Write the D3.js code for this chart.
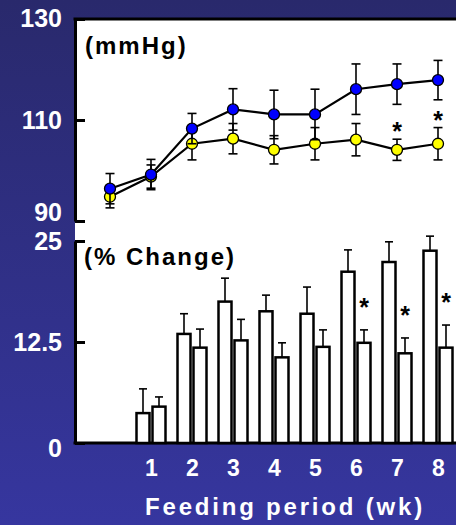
<!DOCTYPE html>
<html><head><meta charset="utf-8">
<script src="https://cdn.jsdelivr.net/npm/d3@7"></script>
<style>
html,body{margin:0;padding:0;background:#2f2f86;}
svg{display:block;}
text{font-family:Arial,"Liberation Sans",sans-serif;font-weight:bold;}
</style></head>
<body>
<svg id="chart" width="456" height="525"></svg>
<script>
// ---- data ----
const weeks = [0, 1, 2, 3, 4, 5, 6, 7, 8];
const xTickLabels = ["1", "2", "3", "4", "5", "6", "7", "8"];
// blood pressure (mmHg)
const bpBlue = [96.4, 99.2, 108.3, 112.1, 111.1, 111.1, 116.1, 117.1, 117.9];
const bpBlueErr = [3.0, 3.0, 3.0, 4.1, 4.8, 5.0, 5.0, 4.0, 3.9];
const bpYellow = [94.8, 98.8, 105.3, 106.3, 104.1, 105.3, 106.1, 104.1, 105.3];
const bpYellowErr = [2.2, 2.3, 3.2, 3.0, 2.8, 3.2, 3.2, 2.1, 3.2];
const bpStarWeeks = [7, 8];
// percent change
const pctA = [0, 3.7, 13.5, 17.5, 16.3, 16.0, 21.2, 22.4, 23.8];
const pctAErr = [0, 3.0, 2.5, 2.9, 2.0, 3.3, 2.7, 2.5, 1.8];
const pctB = [0, 4.5, 11.8, 12.7, 10.6, 11.9, 12.4, 11.1, 11.8];
const pctBErr = [0, 1.2, 2.3, 2.6, 1.8, 2.1, 1.6, 1.9, 2.8];
const pctStarWeeks = [6, 7, 8];
const topTicks = [90, 110, 130];
const bottomTicks = [0, 12.5, 25];
const topLabel = "(mmHg)";
const bottomLabel = "(% Change)";
const xTitle = "Feeding period (wk)";

// ---- layout ----
const svg = d3.select("#chart");
const W = 456, H = 525;
const plotLeft = 75;
const defs = svg.append("defs");
const grad = defs.append("linearGradient").attr("id", "bg").attr("x1", 0).attr("y1", 0).attr("x2", 0).attr("y2", 1);
grad.append("stop").attr("offset", "0%").attr("stop-color", "#29296c");
grad.append("stop").attr("offset", "100%").attr("stop-color", "#36369f");
svg.append("rect").attr("width", W).attr("height", H).attr("fill", "url(#bg)");

const x = d3.scaleLinear().domain([0, 8]).range([110, 438]);
const yTop = d3.scaleLinear().domain([90, 130]).range([221, 19]);
const yBot = d3.scaleLinear().domain([0, 25]).range([443, 241]);

// white plot area
svg.append("rect").attr("x", plotLeft).attr("y", yTop(130)).attr("width", W - plotLeft)
  .attr("height", yBot(0) - yTop(130)).attr("fill", "#fff");
// top border
svg.append("line").attr("x1", plotLeft - 1.5).attr("x2", W).attr("y1", yTop(130)).attr("y2", yTop(130))
  .attr("stroke", "#000").attr("stroke-width", 3);
// bottom axis line
svg.append("line").attr("x1", plotLeft - 1.5).attr("x2", W).attr("y1", yBot(0)).attr("y2", yBot(0))
  .attr("stroke", "#000").attr("stroke-width", 3);

function styleAxis(g) {
  g.select(".domain").attr("stroke", "#000").attr("stroke-width", 3);
  g.selectAll(".tick line").attr("stroke", "#000").attr("stroke-width", 3);
  g.selectAll(".tick text").attr("fill", "#fff").attr("font-size", 25)
    .style("font-family", 'Arial,"Liberation Sans",sans-serif').style("font-weight", "bold");
}
const axTop = svg.append("g").attr("transform", `translate(${plotLeft},0)`)
  .call(d3.axisLeft(yTop).tickValues(topTicks).tickSize(-10).tickSizeOuter(0).tickPadding(13).tickFormat(d3.format("d")));
styleAxis(axTop);
axTop.selectAll(".tick text").attr("dy", d => d === 90 ? "-0.0em" : d === 130 ? "0.28em" : "0.35em")
  .attr("y", d => d === 90 ? -1 : 0);
const axBot = svg.append("g").attr("transform", `translate(${plotLeft},0)`)
  .call(d3.axisLeft(yBot).tickValues(bottomTicks).tickSize(-10).tickSizeOuter(0).tickPadding(13).tickFormat(d => d));
styleAxis(axBot);
axBot.selectAll(".tick text").attr("y", d => d === 0 ? 5 : 0);

// x axis labels (no ticks)
const axX = svg.append("g").attr("transform", `translate(0,${yBot(0)})`)
  .call(d3.axisBottom(x).tickValues(weeks.slice(1)).tickSize(0).tickPadding(17).tickFormat((d, i) => xTickLabels[i]));
axX.select(".domain").remove();
axX.selectAll(".tick text").attr("fill", "#fff").attr("font-size", 23)
  .style("font-family", 'Arial,"Liberation Sans",sans-serif').style("font-weight", "bold");

svg.append("text").attr("x", 285).attr("y", 515).attr("text-anchor", "middle")
  .attr("fill", "#fff").attr("font-size", 24).attr("letter-spacing", 2.8).text(xTitle);

// panel labels
svg.append("text").attr("x", 85).attr("y", 54).attr("font-size", 24).attr("letter-spacing", 2)
  .attr("fill", "#000").text(topLabel);
svg.append("text").attr("x", 84).attr("y", 265).attr("font-size", 24).attr("letter-spacing", 2)
  .attr("fill", "#000").text(bottomLabel);

// ---- bottom: bars ----
const bw = 15;
const barG = svg.append("g");
function drawBars(vals, errs, offset) {
  const g = barG.append("g");
  weeks.forEach((w, i) => {
    const cx = x(w) + offset;
    if (vals[i] > 0) {
      g.append("line").attr("x1", cx).attr("x2", cx).attr("y1", yBot(vals[i])).attr("y2", yBot(vals[i] + errs[i]))
        .attr("stroke", "#000").attr("stroke-width", 1.6);
      g.append("line").attr("x1", cx - 4).attr("x2", cx + 4).attr("y1", yBot(vals[i] + errs[i])).attr("y2", yBot(vals[i] + errs[i]))
        .attr("stroke", "#000").attr("stroke-width", 1.6);
    }
    g.append("rect").attr("x", cx - bw / 2 + 1).attr("width", bw - 2)
      .attr("y", yBot(vals[i])).attr("height", yBot(0) - yBot(vals[i]))
      .attr("fill", "#fff").attr("stroke", "#000").attr("stroke-width", 2.5);
  });
}
drawBars(pctA, pctAErr, -bw / 2 - 0.5);
drawBars(pctB, pctBErr, bw / 2 + 0.5);

pctStarWeeks.forEach(w => {
  const i = weeks.indexOf(w);
  svg.append("text").attr("x", x(w) + bw / 2 + 0.5).attr("y", yBot(pctB[i] + pctBErr[i]) - 14)
    .attr("text-anchor", "middle").attr("font-size", 25).attr("fill", "#000").text("*");
});

// ---- top: lines with error bars ----
function drawSeries(vals, errs, color) {
  const g = svg.append("g");
  weeks.forEach((w, i) => {
    const cx = x(w);
    g.append("line").attr("x1", cx).attr("x2", cx).attr("y1", yTop(vals[i] - errs[i])).attr("y2", yTop(vals[i] + errs[i]))
      .attr("stroke", "#000").attr("stroke-width", 1.6);
    [vals[i] - errs[i], vals[i] + errs[i]].forEach(v => {
      g.append("line").attr("x1", cx - 4.5).attr("x2", cx + 4.5).attr("y1", yTop(v)).attr("y2", yTop(v))
        .attr("stroke", "#000").attr("stroke-width", 1.6);
    });
  });
  g.append("path").datum(weeks).attr("fill", "none").attr("stroke", "#000").attr("stroke-width", 2.2)
    .attr("d", d3.line().x(w => x(w)).y((w, i) => yTop(vals[i])));
  g.selectAll("circle").data(weeks).join("circle")
    .attr("cx", w => x(w)).attr("cy", (w, i) => yTop(vals[i])).attr("r", 5.5)
    .attr("fill", color).attr("stroke", "#000").attr("stroke-width", 1.3);
}
drawSeries(bpYellow, bpYellowErr, "#ffff00");
drawSeries(bpBlue, bpBlueErr, "#0000ff");

bpStarWeeks.forEach(w => {
  const i = weeks.indexOf(w);
  svg.append("text").attr("x", x(w)).attr("y", yTop(bpYellowErr[i] + bpYellow[i]) + 1)
    .attr("text-anchor", "middle").attr("font-size", 25).attr("fill", "#000").text("*");
});
</script>
</body></html>
